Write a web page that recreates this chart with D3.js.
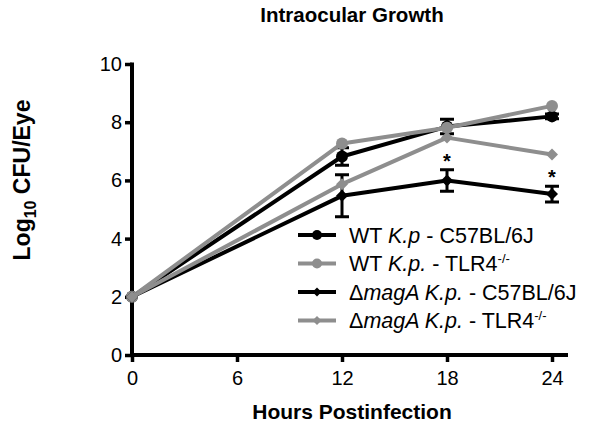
<!DOCTYPE html>
<html><head><meta charset="utf-8">
<script src="https://cdn.jsdelivr.net/npm/d3@7"></script>
<style>body{margin:0;background:#fff}svg{display:block}text{font-family:"Liberation Sans",Arial,sans-serif}</style>
</head><body><svg id="c" width="601" height="430"></svg>
<script>
const hours = [0, 12, 18, 24];
const xTicks = [0, 6, 12, 18, 24];
const yTicks = [0, 2, 4, 6, 8, 10];
const wtC57 = [2, 6.82, 7.85, 8.2];
const wtC57Err = [0, 0.3, 0.25, 0.08];
const wtTLR4 = [2, 7.27, 7.81, 8.56];
const magC57 = [2, 5.47, 6.0, 5.53];
const magC57Err = [0, 0.72, 0.37, 0.27];
const magTLR4 = [2, 5.87, 7.47, 6.89];
const stars = [[18, 6.0, 0.37], [24, 5.53, 0.27]];

const series = [
  {name: "wtC57", vals: wtC57, err: wtC57Err, color: "#000", shape: "circle"},
  {name: "wtTLR4", vals: wtTLR4, err: null, color: "#8e8e8e", shape: "circle"},
  {name: "magC57", vals: magC57, err: magC57Err, color: "#000", shape: "diamond"},
  {name: "magTLR4", vals: magTLR4, err: null, color: "#8e8e8e", shape: "diamond"}
];

const svg = d3.select("#c");
const x = d3.scaleLinear().domain([0, 24]).range([132, 552]);
const y = d3.scaleLinear().domain([0, 10]).range([355, 64]);

// axes
const xAx = svg.append("g").attr("transform", "translate(0,355)")
  .call(d3.axisBottom(x).tickValues(xTicks).tickSize(7).tickPadding(9).tickSizeOuter(0));
xAx.select(".domain").attr("d", "M132,0H568").attr("stroke-width", 4);
xAx.selectAll(".tick line").attr("stroke-width", 3.5);
xAx.selectAll(".tick text").attr("font-size", 20).attr("fill", "#000");

const yAx = svg.append("g").attr("transform", "translate(132,0)")
  .call(d3.axisLeft(y).tickValues(yTicks).tickSize(7).tickPadding(3).tickSizeOuter(0));
yAx.select(".domain").attr("d", "M0,62.5V357").attr("stroke-width", 4);
yAx.selectAll(".tick line").attr("stroke-width", 3.5);
yAx.selectAll(".tick text").attr("font-size", 20).attr("fill", "#000");

// lines
const line = d3.line().x((d, i) => x(hours[i])).y(d => y(d));
const plot = svg.append("g");
series.forEach(s => {
  const g = plot.append("g");
  g.append("path").attr("d", line(s.vals)).attr("fill", "none")
    .attr("stroke", s.color).attr("stroke-width", 4).attr("stroke-linejoin", "round");
  if (s.err) {
    s.vals.forEach((v, i) => {
      const e = s.err[i]; if (!e) return;
      const cx = x(hours[i]);
      g.append("path").attr("d", `M${cx},${y(v + e)}V${y(v - e)}M${cx - 7},${y(v + e)}H${cx + 7}M${cx - 7},${y(v - e)}H${cx + 7}`)
        .attr("stroke", s.color).attr("stroke-width", 3).attr("fill", "none");
    });
  }
  s.vals.forEach((v, i) => {
    const cx = x(hours[i]), cy = y(v);
    if (s.shape === "circle") g.append("circle").attr("cx", cx).attr("cy", cy).attr("r", 6).attr("fill", s.color);
    else g.append("path").attr("d", `M${cx},${cy - 6}L${cx + 6},${cy}L${cx},${cy + 6}L${cx - 6},${cy}Z`).attr("fill", s.color);
  });
});

// significance stars
stars.forEach(([h, v, e]) => {
  svg.append("text").attr("x", x(h)).attr("y", y(v + e) - 2).attr("text-anchor", "middle")
    .attr("font-size", 20).attr("font-weight", "bold").text("*");
});

// legend
const legendRows = [
  {s: series[0], parts: [["WT ", ""], ["K.p", "i"], [" - C57BL/6J", ""]]},
  {s: series[1], parts: [["WT ", ""], ["K.p.", "i"], [" - TLR4", ""], ["-/-", "sup"]]},
  {s: series[2], parts: [["Δ", ""], ["magA K.p.", "i"], [" - C57BL/6J", ""]]},
  {s: series[3], parts: [["Δ", ""], ["magA K.p.", "i"], [" - TLR4", ""], ["-/-", "sup"]]}
];
legendRows.forEach((r, i) => {
  const ly = 235 + i * 28.5;
  const g = svg.append("g");
  g.append("line").attr("x1", 298).attr("x2", 336).attr("y1", ly).attr("y2", ly)
    .attr("stroke", r.s.color).attr("stroke-width", 4);
  if (r.s.shape === "circle") g.append("circle").attr("cx", 317).attr("cy", ly).attr("r", 5).attr("fill", r.s.color);
  else g.append("path").attr("d", `M317,${ly - 4.5}L321.5,${ly}L317,${ly + 4.5}L312.5,${ly}Z`).attr("fill", r.s.color);
  const t = g.append("text").attr("x", 349).attr("y", ly + 7.5).attr("font-size", 21.5).attr("fill", "#000");
  r.parts.forEach(([txt, st]) => {
    const ts = t.append("tspan").text(txt);
    if (st === "i") ts.attr("font-style", "italic");
    if (st === "sup") ts.attr("font-size", 13).attr("dy", -8);
  });
});

// titles
svg.append("text").attr("x", 352).attr("y", 22).attr("text-anchor", "middle")
  .attr("font-size", 20.5).attr("font-weight", "bold").text("Intraocular Growth");
svg.append("text").attr("x", 352).attr("y", 419).attr("text-anchor", "middle")
  .attr("font-size", 21).attr("font-weight", "bold").text("Hours Postinfection");
const yl = svg.append("text").attr("transform", "translate(30,180) rotate(-90)").attr("text-anchor", "middle")
  .attr("font-size", 23).attr("font-weight", "bold");
yl.append("tspan").text("Log");
yl.append("tspan").text("10").attr("font-size", 16).attr("dy", 6);
yl.append("tspan").text(" CFU/Eye").attr("dy", -6);
</script></body></html>
